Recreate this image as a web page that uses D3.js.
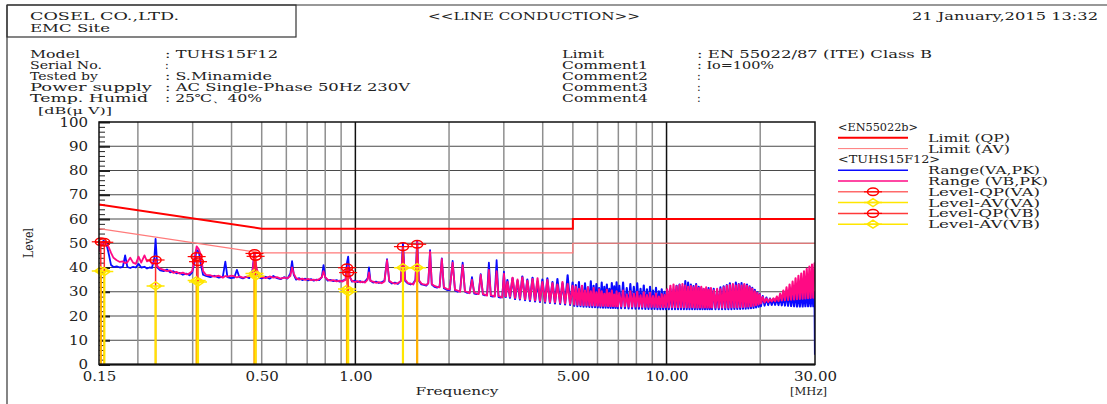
<!DOCTYPE html>
<html>
<head>
<meta charset="utf-8">
<script src="https://cdn.jsdelivr.net/npm/d3@7"></script>
<style>
  body { margin: 0; background: #fff; }
  text { font-family: "DejaVu Serif", "Liberation Serif", serif; fill: #222; }
</style>
</head>
<body>
<svg id="chart" width="1107" height="404"></svg>
<script>
// ---------------- data ----------------
var headerLeft = ["COSEL CO.,LTD.", "EMC Site"];
var headerTitle = "<<LINE CONDUCTION>>";
var headerDate = "21 January,2015 13:32";
var infoLabels = ["Model", "Serial No.", "Tested by", "Power supply", "Temp. Humid"];
var infoValues = [": TUHS15F12", ":", ": S.Minamide", ": AC Single-Phase 50Hz 230V", ": 25\u2103\u300140%"];
var infoLabels2 = ["Limit", "Comment1", "Comment2", "Comment3", "Comment4"];
var infoValues2 = [": EN 55022/87 (ITE) Class B", ": Io=100%", ":", ":", ":"];

var yTicks = [0, 10, 20, 30, 40, 50, 60, 70, 80, 90, 100];
var xLabelValues = [0.15, 0.5, 1, 5, 10, 30];
var xLabelText = ["0.15", "0.50", "1.00", "5.00", "10.00", "30.00"];
var gridMinor = [0.2, 0.3, 0.4, 0.5, 0.6, 0.7, 0.8, 0.9, 2, 3, 4, 5, 6, 7, 8, 9, 20];
var gridMajor = [1, 10];

// EN55022 class B limits
var limitFreq = [0.15, 0.5, 5, 5, 30];
var limitQP = [66, 56, 56, 60, 60];
var limitAV = [56, 46, 46, 50, 50];

// peak scan 0.15 - 3 MHz
var freqLow = [
  0.150,0.152,0.155,0.158,0.161,0.164,0.167,0.171,0.175,0.179,
  0.182,0.185,0.189,0.193,0.197,0.201,0.205,0.210,0.214,0.218,
  0.222,0.226,0.228,0.231,0.236,0.242,0.248,0.254,0.260,0.266,
  0.272,0.279,0.286,0.293,0.299,0.304,0.309,0.314,0.319,0.324,
  0.331,0.342,0.352,0.364,0.375,0.382,0.388,0.398,0.408,0.416,
  0.424,0.435,0.446,0.456,0.466,0.474,0.481,0.490,0.500,0.515,
  0.530,0.545,0.560,0.575,0.590,0.605,0.618,0.626,0.634,0.645,
  0.660,0.675,0.690,0.705,0.720,0.735,0.750,0.765,0.780,0.790,
  0.800,0.815,0.830,0.850,0.870,0.890,0.910,0.930,0.940,0.948,
  0.958,0.975,0.995,1.015,1.035,1.055,1.075,1.095,1.106,1.118,
  1.140,1.165,1.190,1.215,1.240,1.264,1.285,1.310,1.340,1.370,
  1.400,1.422,1.445,1.475,1.505,1.535,1.560,1.580,1.600,1.630,
  1.660,1.690,1.715,1.738,1.760,1.795,1.830,1.865,1.896,1.925,
  1.965,2.010,2.054,2.090,2.130,2.170,2.212,2.250,2.290,2.330,
  2.370,2.410,2.450,2.490,2.528,2.570,2.610,2.650,2.686,2.725,
  2.765,2.805,2.844,2.885,2.925,2.965,3.002,3.040];
var vaLow = [
  47.0,49.5,51.0,50.5,46.0,41.0,40.2,40.5,40.0,40.3,
  45.0,40.2,39.8,40.3,40.0,41.5,40.0,40.3,39.6,40.0,
  39.8,44.0,51.8,40.0,38.8,38.5,39.2,38.0,38.5,37.6,
  37.8,37.0,37.5,36.8,38.0,42.0,47.3,46.5,41.0,37.0,
  36.5,36.0,36.6,35.8,36.2,42.4,36.0,35.6,35.8,39.0,
  36.0,35.5,36.2,35.6,38.0,46.0,38.5,35.8,35.5,36.2,
  35.4,36.5,35.6,35.2,36.0,35.4,37.5,42.6,37.0,35.0,
  35.6,34.8,35.4,34.7,35.2,34.6,35.0,34.8,36.0,41.0,
  36.0,34.6,34.9,34.4,34.8,34.2,34.6,35.0,42.0,44.5,
  36.5,34.2,34.6,34.0,34.4,33.9,34.3,35.5,40.0,34.5,
  33.8,34.2,33.6,34.0,34.5,43.4,34.2,33.4,33.8,33.2,
  34.5,50.0,34.5,33.4,33.0,33.5,35.0,51.0,34.5,33.0,
  32.8,32.5,33.5,47.2,33.0,32.0,31.7,32.2,43.8,31.5,
  30.8,30.6,42.7,30.5,30.0,30.3,42.0,30.0,29.5,29.6,
  36.0,29.2,29.0,29.4,37.3,28.8,28.5,28.7,42.0,28.2,
  28.0,28.3,43.0,27.8,27.6,27.8,38.3,27.6];
var vbLow = [
  46.5,49.0,50.5,50.0,48.5,46.0,44.0,43.0,42.3,42.5,
  41.8,42.2,44.0,42.0,41.5,44.5,42.0,45.0,42.5,43.0,
  41.5,42.0,43.5,40.5,39.5,39.0,38.5,38.8,37.8,38.2,
  37.5,37.9,37.2,37.6,38.5,44.0,48.7,47.5,45.0,38.5,
  37.0,36.8,36.2,36.6,35.8,36.5,36.2,36.6,36.4,35.9,
  36.3,35.8,36.0,36.4,37.0,45.8,40.0,36.5,36.0,35.6,
  36.3,35.8,36.0,35.4,35.8,35.6,36.5,40.0,37.5,35.6,
  35.0,35.4,34.9,35.3,34.8,35.0,34.7,35.2,36.0,38.5,
  36.0,35.0,34.6,34.8,34.3,34.6,34.2,35.0,39.5,40.5,
  36.0,34.5,34.0,34.4,33.9,34.2,33.8,35.0,38.0,34.5,
  34.2,33.7,34.0,33.5,34.2,43.0,34.5,33.8,33.3,33.6,
  34.3,48.6,35.0,33.6,33.4,33.0,34.8,50.5,34.8,33.4,
  33.0,32.8,33.5,46.5,33.2,32.4,32.0,31.8,43.5,31.8,
  31.2,31.0,42.0,30.9,30.5,30.0,41.0,30.2,29.9,29.4,
  35.0,29.6,29.3,29.0,37.0,29.0,28.8,28.4,39.0,28.5,
  28.4,28.0,38.5,28.2,28.0,27.6,37.5,27.9];

// peak scan 3 - 30 MHz (harmonic comb, peak / valley)
var freqHigh = [
  3.08,3.14,3.20,3.26,3.32,3.38,3.44,3.51,3.57,3.64,
  3.71,3.78,3.85,3.92,3.99,4.07,4.14,4.22,4.30,4.38,
  4.46,4.55,4.63,4.72,4.81,4.90,4.99,
  5.05,5.11,5.17,5.23,5.29,5.35,5.41,5.47,5.53,5.59,
  5.65,5.71,5.77,5.83,5.89,5.95,6.01,6.07,6.13,6.19,
  6.25,6.31,6.37,6.43,6.49,6.55,6.61,6.67,6.73,6.79,
  6.85,6.91,6.97,
  7.05,7.15,7.25,7.35,7.45,7.55,7.65,7.75,7.85,7.95,
  8.05,8.15,8.25,8.35,8.45,8.55,8.65,8.75,8.85,8.95,
  9.05,9.15,9.25,9.35,9.45,9.55,9.65,9.75,9.85,9.95,
  10.05,10.17,10.29,10.41,10.53,10.65,10.77,10.89,11.01,11.13,
  11.25,11.37,11.49,11.61,11.73,11.85,11.97,12.09,12.21,12.33,
  12.45,12.57,12.69,12.81,12.93,13.05,13.17,13.29,13.41,13.53,
  13.65,13.77,13.89,
  14.00,14.18,14.36,14.54,14.72,14.90,15.08,15.26,15.44,15.62,
  15.80,15.98,16.16,16.34,16.52,16.70,16.88,17.06,17.24,17.42,
  17.60,17.78,17.96,18.14,18.32,18.50,18.68,18.86,19.04,19.22,
  19.40,19.58,19.76,19.94,
  20.10,20.38,20.66,20.94,21.22,21.50,21.78,22.06,22.34,22.62,
  22.90,23.18,23.46,23.74,24.02,24.30,24.58,24.86,25.14,25.42,
  25.70,25.98,26.26,26.54,26.82,27.10,27.38,27.66,27.94,28.22,
  28.50,28.78,29.06,29.34,29.62,29.90,30.00];
var vaHigh = [
  34.8,27.5,35.5,27.0,34.5,26.8,36.3,26.5,35.0,26.2,
  35.8,26.0,34.2,25.8,35.0,25.5,35.5,25.4,34.0,25.2,
  35.2,25.0,33.5,24.8,36.8,24.6,33.8,
  24.2,32.8,24.0,34.0,24.0,32.2,23.8,33.5,23.8,31.8,
  23.7,34.3,23.6,32.5,23.6,33.2,23.5,31.5,23.5,33.8,
  23.4,32.0,23.4,33.0,23.4,31.2,23.3,33.6,23.3,32.2,
  23.3,33.9,23.2,
  32.5,23.2,33.8,23.2,31.5,23.1,33.2,23.1,32.0,23.0,
  33.5,23.0,31.2,23.0,32.6,22.9,31.0,22.9,32.0,22.9,
  30.5,22.9,31.6,22.8,30.2,22.8,31.0,22.8,30.0,22.8,
  30.5,22.8,31.2,22.8,30.8,22.8,32.5,22.8,33.0,22.8,
  32.0,22.8,34.4,22.8,33.8,22.8,33.0,22.8,32.4,22.8,
  33.2,22.8,32.0,22.8,31.5,22.8,31.0,22.8,30.8,22.8,
  31.5,22.8,30.8,
  22.8,31.2,22.8,30.5,22.8,31.8,22.8,32.2,22.8,32.8,
  22.8,33.5,22.8,32.8,22.9,33.8,22.9,33.2,22.9,33.6,
  23.0,32.8,23.0,33.0,23.1,32.2,23.2,31.6,23.3,30.8,
  23.5,29.8,23.8,29.0,
  24.0,28.2,24.3,27.6,24.5,27.2,24.6,27.0,24.6,27.4,
  24.5,28.0,24.4,28.6,24.3,29.2,24.2,29.6,24.1,29.0,
  24.0,30.0,23.9,29.4,23.9,30.4,23.9,29.6,24.0,30.8,
  24.0,29.8,24.0,30.5,24.0,29.6,4.0];
var vbHigh = [
  34.0,28.0,35.8,27.5,35.0,27.2,35.9,27.0,34.5,26.8,
  35.2,26.5,35.5,26.3,34.0,26.0,34.8,25.8,33.5,25.7,
  33.0,25.5,34.0,25.3,33.2,25.1,32.5,
  24.8,32.0,24.7,31.2,24.6,32.5,24.5,30.5,24.5,31.8,
  24.4,30.2,24.4,31.5,24.3,29.8,24.3,31.0,24.2,30.2,
  24.2,29.2,24.2,30.8,24.1,29.5,24.1,30.5,24.1,28.8,
  24.0,30.2,24.0,
  29.5,24.0,30.5,24.0,28.8,23.9,30.2,23.9,29.2,23.9,
  30.0,23.9,28.5,23.8,29.8,23.8,28.6,23.8,29.6,23.8,
  28.2,23.8,29.3,23.7,28.0,23.7,29.0,23.7,28.6,23.7,
  31.0,23.6,32.5,23.6,33.0,23.6,32.2,23.6,32.8,23.6,
  33.2,23.6,32.6,23.6,32.0,23.6,32.4,23.6,31.8,23.5,
  32.6,23.5,31.5,23.5,32.0,23.5,31.2,23.5,31.8,23.5,
  30.8,23.5,31.5,
  23.5,30.6,23.5,31.2,23.5,31.0,23.5,31.8,23.5,32.5,
  23.5,32.8,23.6,33.2,23.6,32.6,23.6,33.0,23.7,32.6,
  23.7,33.2,23.8,32.5,23.9,31.8,24.0,31.2,24.2,30.2,
  24.5,29.5,24.8,28.8,
  25.2,27.8,25.6,27.2,25.8,27.0,26.0,27.3,26.1,28.0,
  26.2,29.2,26.4,30.5,26.5,31.8,26.6,33.0,26.7,34.2,
  26.8,35.5,26.9,36.6,27.0,37.5,27.1,38.4,27.2,39.5,
  27.3,40.4,27.4,41.2,27.5,41.7,40.5];

// final measurements (QP / AV)
var measFreqVA = [0.152, 0.309, 0.474, 0.940, 1.580];
var qpVA = [50.6, 44.5, 45.8, 39.9, 49.6];
var avVA = [38.6, 34.6, 37.5, 31.1, 39.9];
var measFreqVB = [0.156, 0.228, 0.312, 0.478, 0.948, 1.422];
var qpVB = [50.4, 43.1, 42.4, 44.6, 37.9, 48.6];
var avVB = [38.3, 32.4, 34.0, 36.5, 30.0, 39.9];

var legendLabels = ["Limit (QP)", "Limit (AV)", "Range(VA,PK)", "Range (VB,PK)",
  "Level-QP(VA)", "Level-AV(VA)", "Level-QP(VB)", "Level-AV(VB)"];

// ---------------- chart ----------------
var plot = { left: 99, right: 815, top: 122, bottom: 364.5 };
var colors = {
  qp: "#ff0000", av: "#ff7a7a", va: "#0a0aff", vb: "#ff0a84",
  stem: "#ff2a2a", avVA: "#ffb400", avVB: "#ffe600"
};

var svg = d3.select("#chart");
var x = d3.scaleLog().domain([0.15, 30]).range([plot.left, plot.right]);
var y = d3.scaleLinear().domain([0, 100]).range([plot.bottom, plot.top]);

// page frame and header box
svg.append("line").attr("x1", 7).attr("x2", 1107).attr("y1", 5).attr("y2", 5)
  .attr("stroke", "#333").attr("stroke-width", 1.2);
svg.append("line").attr("x1", 7).attr("x2", 7).attr("y1", 5).attr("y2", 404)
  .attr("stroke", "#333").attr("stroke-width", 1.2);
svg.append("rect").attr("x", 7).attr("y", 5).attr("width", 289).attr("height", 32)
  .attr("fill", "none").attr("stroke", "#333").attr("stroke-width", 1.2);

// text stretched to the printed width (wide mincho-like face in the original)
function txt(xp, yp, s, w, anchor, size) {
  var t = svg.append("text").attr("x", xp).attr("y", yp)
    .attr("font-size", size || 11).attr("text-anchor", anchor || "start").text(s);
  if (w) t.attr("textLength", w).attr("lengthAdjust", "spacingAndGlyphs");
  return t;
}
txt(30, 20, headerLeft[0], 149, null, 11.5);
txt(30, 32, headerLeft[1], 80, null, 11.5);
txt(428, 20, headerTitle, 212, null, 11.5);
txt(1098, 20, headerDate, 186, "end", 11.5);

var infoW = [50, 72, 68, 122, 118];
var infoValW = [113, 0, 107, 245, 97];
infoLabels.forEach(function (d, i) {
  txt(30, 58 + i * 11, d, infoW[i]);
  txt(165, 58 + i * 11, infoValues[i], infoValW[i]);
});
var infoW2 = [42, 86, 86, 86, 86];
var infoValW2 = [235, 77, 0, 0, 0];
infoLabels2.forEach(function (d, i) {
  txt(562, 58 + i * 11, d, infoW2[i]);
  txt(697, 58 + i * 11, infoValues2[i], infoValW2[i]);
});
txt(38, 114, "[dB(\u03bc V)]", 74, null, 10);
txt(0, 0, "Level", 30, "middle", 12).attr("transform", "translate(33,243) rotate(-90)");
txt(457, 395, "Frequency", 83, "middle", 11.5);
txt(790, 395, "[MHz]", 37, null, 11.5);

// grid
var grid = svg.append("g");
grid.selectAll(".hgrid").data(yTicks.slice(1, -1)).enter().append("line")
  .attr("x1", plot.left).attr("x2", plot.right)
  .attr("y1", function (d) { return y(d); }).attr("y2", function (d) { return y(d); })
  .attr("stroke", "#4a4a4a").attr("stroke-width", 1);
grid.selectAll(".vminor").data(gridMinor).enter().append("line")
  .attr("x1", function (d) { return x(d); }).attr("x2", function (d) { return x(d); })
  .attr("y1", plot.top).attr("y2", plot.bottom)
  .attr("stroke", "#8f8f8f").attr("stroke-width", 1.5);
grid.selectAll(".vmajor").data(gridMajor).enter().append("line")
  .attr("x1", function (d) { return x(d); }).attr("x2", function (d) { return x(d); })
  .attr("y1", plot.top).attr("y2", plot.bottom)
  .attr("stroke", "#111").attr("stroke-width", 1.5);

// left ticks (minor every 2 dB)
var minorTicks = d3.range(0, 101, 2);
grid.append("g").attr("transform", "translate(" + plot.left + ",0)")
  .call(d3.axisRight(y).tickValues(minorTicks).tickSize(6).tickFormat(""))
  .call(function (g) { g.select(".domain").remove(); })
  .selectAll("line").attr("stroke", "#222");
grid.append("g").attr("transform", "translate(" + plot.left + ",0)")
  .call(d3.axisRight(y).tickValues(yTicks).tickSize(11).tickFormat(""))
  .call(function (g) { g.select(".domain").remove(); })
  .selectAll("line").attr("stroke", "#222").attr("stroke-width", 2);

// axis labels
var yAxisG = svg.append("g").attr("transform", "translate(" + plot.left + ",0)")
  .call(d3.axisLeft(y).tickValues(yTicks).tickSize(0).tickPadding(11));
yAxisG.select(".domain").remove();
yAxisG.selectAll("text").attr("font-size", 12.5).attr("font-family", null).attr("fill", "#222")
  .attr("x", 0).attr("transform", "translate(-11,0) scale(1.2,1)");

var xAxisG = svg.append("g").attr("transform", "translate(0," + plot.bottom + ")")
  .call(d3.axisBottom(x).tickValues(xLabelValues).tickSize(0).tickPadding(8)
    .tickFormat(function (d, i) { return xLabelText[i]; }));
xAxisG.select(".domain").remove();
xAxisG.selectAll("text").attr("font-size", 12.5).attr("font-family", null).attr("fill", "#222")
  .attr("transform", "scale(1.2,1)");

// clip
svg.append("defs").append("clipPath").attr("id", "clip").append("rect")
  .attr("x", plot.left).attr("y", plot.top)
  .attr("width", plot.right - plot.left).attr("height", plot.bottom - plot.top);
var body = svg.append("g").attr("clip-path", "url(#clip)");

var line = d3.line().x(function (d) { return x(d[0]); }).y(function (d) { return y(d[1]); });

// limits
var qpPts = limitFreq.map(function (f, i) { return [f, limitQP[i]]; });
var avPts = limitFreq.map(function (f, i) { return [f, limitAV[i]]; });
body.append("path").attr("d", line(avPts)).attr("fill", "none")
  .attr("stroke", colors.av).attr("stroke-width", 1.2);
body.append("path").attr("d", line(qpPts)).attr("fill", "none")
  .attr("stroke", colors.qp).attr("stroke-width", 2);

// spectra: low band thinner, dense comb above 3 MHz a bit heavier
function pts(fr, lv) { return fr.map(function (f, i) { return [f, lv[i]]; }); }
var vaPts = pts(freqLow, vaLow), vbPts = pts(freqLow, vbLow);
var vaHiPts = [vaPts[vaPts.length - 1]].concat(pts(freqHigh, vaHigh));
var vbHiPts = [vbPts[vbPts.length - 1]].concat(pts(freqHigh, vbHigh));
[[vaPts, vaHiPts, colors.va], [vbPts, vbHiPts, colors.vb]].forEach(function (s) {
  body.append("path").attr("d", line(s[0])).attr("fill", "none")
    .attr("stroke", s[2]).attr("stroke-width", 1.8).attr("stroke-linejoin", "round");
  body.append("path").attr("d", line(s[1])).attr("fill", "none")
    .attr("stroke", s[2]).attr("stroke-width", 2.1).attr("stroke-linejoin", "round");
});

// measurement stems + markers
function diamond(g, cx, cy, col) {
  g.append("path")
    .attr("d", "M" + (cx - 6) + "," + cy + "L" + cx + "," + (cy - 4) + "L" + (cx + 6) + "," + cy +
      "L" + cx + "," + (cy + 4) + "Z M" + (cx - 9) + "," + cy + "H" + (cx + 9))
    .attr("fill", "none").attr("stroke", col).attr("stroke-width", 1.5);
}
function circle(g, cx, cy, col) {
  g.append("ellipse").attr("cx", cx).attr("cy", cy).attr("rx", 5.5).attr("ry", 3.8)
    .attr("fill", "none").attr("stroke", col).attr("stroke-width", 1.5);
  g.append("line").attr("x1", cx - 9).attr("x2", cx + 9).attr("y1", cy).attr("y2", cy)
    .attr("stroke", col).attr("stroke-width", 1.2);
}
var meas = svg.append("g");
function drawMeas(freqs, qp, av, avCol) {
  freqs.forEach(function (f, i) {
    meas.append("line").attr("x1", x(f)).attr("x2", x(f)).attr("y1", y(0)).attr("y2", y(qp[i]))
      .attr("stroke", colors.stem).attr("stroke-width", 1.5);
    meas.append("line").attr("x1", x(f)).attr("x2", x(f)).attr("y1", y(0)).attr("y2", y(av[i]))
      .attr("stroke", avCol).attr("stroke-width", 2.2);
  });
  freqs.forEach(function (f, i) {
    circle(meas, x(f), y(qp[i]), colors.qp);
    diamond(meas, x(f), y(av[i]), colors.avVB);
  });
}
drawMeas(measFreqVA, qpVA, avVA, colors.avVA);
drawMeas(measFreqVB, qpVB, avVB, colors.avVB);

// plot frame
svg.append("rect").attr("x", plot.left).attr("y", plot.top)
  .attr("width", plot.right - plot.left).attr("height", plot.bottom - plot.top)
  .attr("fill", "none").attr("stroke", "#111").attr("stroke-width", 1.5);
svg.append("line").attr("x1", plot.left).attr("x2", plot.right)
  .attr("y1", plot.bottom).attr("y2", plot.bottom).attr("stroke", "#111").attr("stroke-width", 2.2);

// legend
var lg = svg.append("g");
var lx0 = 838, lx1 = 908, ltx = 928, rowH = 10.8, ly0 = 127;
txt(lx0, ly0 + 4, "<EN55022b>", 80);
txt(lx0, ly0 + 3 * rowH + 4, "<TUHS15F12>", 102);
var legendStyle = [
  { row: 1, col: colors.qp, w: 2, tw: 82 },
  { row: 2, col: colors.av, w: 1, tw: 82 },
  { row: 4, col: colors.va, w: 1.5, tw: 112 },
  { row: 5, col: colors.vb, w: 1.5, tw: 120 },
  { row: 6, col: "#ff6a6a", w: 1.5, mk: "c", tw: 112 },
  { row: 7, col: colors.avVB, w: 1.5, mk: "d", tw: 112 },
  { row: 8, col: "#ff3a3a", w: 1.5, mk: "c", tw: 112 },
  { row: 9, col: colors.avVB, w: 1.5, mk: "d", tw: 112 }
];
legendLabels.forEach(function (lab, i) {
  var s = legendStyle[i], ly = ly0 + s.row * rowH;
  lg.append("line").attr("x1", lx0).attr("x2", lx1).attr("y1", ly).attr("y2", ly)
    .attr("stroke", s.col).attr("stroke-width", s.w);
  if (s.mk === "c") circle(lg, (lx0 + lx1) / 2, ly, colors.qp);
  if (s.mk === "d") diamond(lg, (lx0 + lx1) / 2, ly, colors.avVB);
  txt(ltx, ly + 4, lab, s.tw);
});
</script>
</body>
</html>
